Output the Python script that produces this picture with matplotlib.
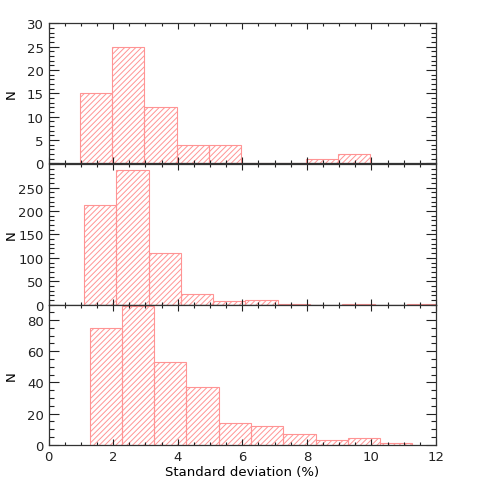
import matplotlib
matplotlib.use('Agg')
import matplotlib.pyplot as plt
import numpy as np
from matplotlib.ticker import MultipleLocator

plt.rcParams['font.family'] = ['DejaVu Sans']
plt.rcParams['hatch.linewidth'] = 0.7

# 三个面板的直方图数据（左边界起点 + 每个 bin 的计数，bin 宽 1%）
bin_width = 1.0
top_start = 0.97
top_counts = [15, 25, 12, 4, 4, 0, 0, 1, 2]
mid_start = 1.10
mid_counts = [213, 288, 110, 23, 7, 9, 1, 0, 2, 0, 1]
bot_start = 1.27
bot_counts = [75, 89, 53, 37, 14, 12, 7, 3, 4, 1]

panels = [
    (top_start, top_counts, 30, 5, 1),
    (mid_start, mid_counts, 300, 50, 10),
    (bot_start, bot_counts, 90, 20, 5),
]

red = '#ff9494'
fig = plt.figure(figsize=(4.85, 4.85), dpi=100)

# 面板位置（左、下、宽、高）
left, right = 0.100, 0.899
bottoms = [0.661, 0.370, 0.081]
height = 0.289

for i, (start, counts, ymax, major, minor) in enumerate(panels):
    ax = fig.add_axes([left, bottoms[i], right - left, height])
    edges = start + bin_width * np.arange(len(counts))
    ax.bar(edges, counts, width=bin_width, align='edge',
           facecolor='none', edgecolor=red, linewidth=0.8,
           hatch='//////')
    ax.set_xlim(0, 12)
    ax.set_ylim(0, ymax)
    ax.xaxis.set_major_locator(MultipleLocator(2))
    ax.xaxis.set_minor_locator(MultipleLocator(0.5))
    ax.yaxis.set_major_locator(MultipleLocator(major))
    ax.yaxis.set_minor_locator(MultipleLocator(minor))
    ax.tick_params(which='both', direction='in', top=True, right=True,
                   labelsize=9.5, colors='#222222', width=0.8)
    ax.tick_params(axis='y', which='major', length=7)
    ax.tick_params(axis='y', which='minor', length=3.5)
    ax.tick_params(axis='x', which='major', length=4)
    ax.tick_params(axis='x', which='minor', length=2)
    for s in ax.spines.values():
        s.set_color('#333333')
        s.set_linewidth(0.9)
    ax.set_ylabel('N', fontsize=9.5)
    ax.yaxis.set_label_coords(-0.08, 0.5)
    if i > 0:
        # 顶端刻度标签不显示（与上一面板共用边框）
        ax.set_yticks(np.arange(0, ymax, major))
        ax.yaxis.set_minor_locator(MultipleLocator(minor))
    if i < 2:
        ax.tick_params(axis='x', labelbottom=False)
    else:
        ax.set_xlabel('Standard deviation (%)', fontsize=9.5, labelpad=2)

fig.savefig('out.png', dpi=100, facecolor='white')
plt.close(fig)
